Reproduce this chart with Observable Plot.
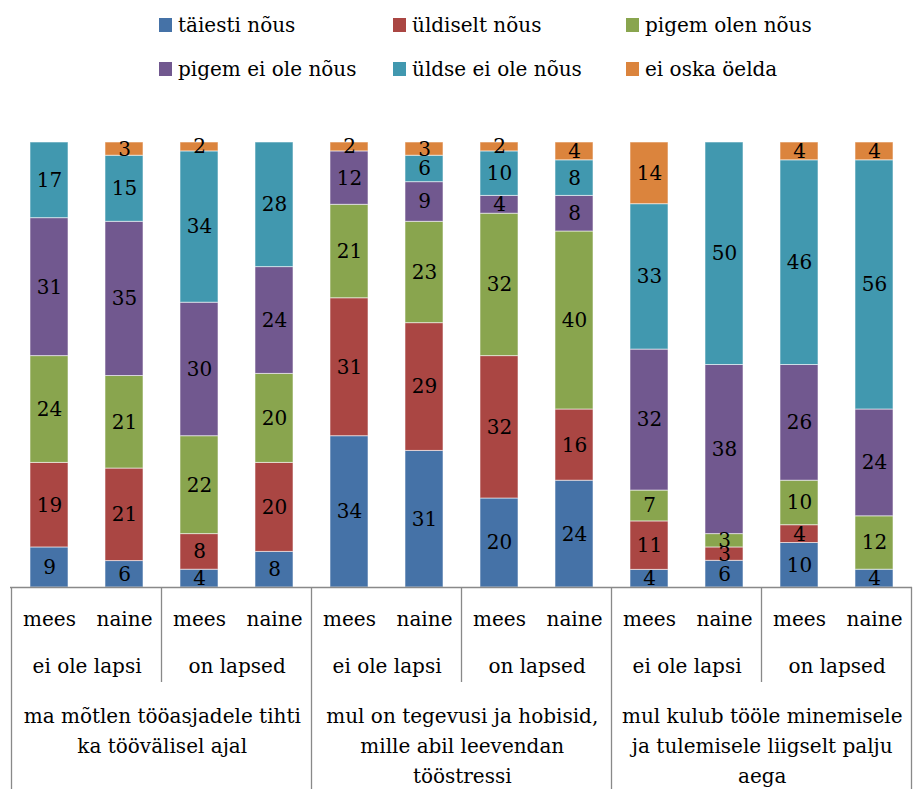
<!DOCTYPE html>
<html><head><meta charset="utf-8">
<script src="https://cdn.jsdelivr.net/npm/d3@7"></script>
<script src="https://cdn.jsdelivr.net/npm/@observablehq/plot@0.6"></script>
<style>
body{margin:0;background:#fff;font-family:"DejaVu Serif","Liberation Serif",serif;}
#legend{position:relative;height:100px;font-size:20px;color:#000;}
.item{position:absolute;display:flex;align-items:center;white-space:nowrap;height:30px;}
.sw{width:13px;height:14px;margin-right:6px;}
#chart svg{display:block;}
</style></head><body>
<div id="legend"></div><div id="chart"></div>
<script>
// Series (legend order, bottom to top in stack)
const seriesNames = ["täiesti nõus","üldiselt nõus","pigem olen nõus","pigem ei ole nõus","üldse ei ole nõus","ei oska öelda"];
const seriesColors = ["#4572A7","#AA4643","#89A54E","#71588F","#4198AF","#DB843D"];

// Categories (12 bars)
const sexLabels = ["mees","naine","mees","naine","mees","naine","mees","naine","mees","naine","mees","naine"];
const childLabels = ["ei ole lapsi","on lapsed","ei ole lapsi","on lapsed","ei ole lapsi","on lapsed"];
const statementLabels = [
  "ma mõtlen tööasjadele tihti\nka töövälisel ajal",
  "mul on tegevusi ja hobisid,\nmille abil leevendan\ntööstressi",
  "mul kulub tööle minemisele\nja tulemisele liigselt palju\naega"
];

// Values (%) per series, per bar
const taiestiNous   = [9, 6, 4, 8, 34, 31, 20, 24, 4, 6, 10, 4];
const uldiseltNous  = [19, 21, 8, 20, 31, 29, 32, 16, 11, 3, 4, 0];
const pigemOlenNous = [24, 21, 22, 20, 21, 23, 32, 40, 7, 3, 10, 12];
const pigemEiOle    = [31, 35, 30, 24, 12, 9, 4, 8, 32, 38, 26, 24];
const uldseEiOle    = [17, 15, 34, 28, 0, 6, 10, 8, 33, 50, 46, 56];
const eiOskaOelda   = [0, 3, 2, 0, 2, 3, 2, 4, 14, 0, 4, 4];

const seriesValues = [taiestiNous, uldiseltNous, pigemOlenNous, pigemEiOle, uldseEiOle, eiOskaOelda];
const barIds = sexLabels.map((_, i) => "b" + i);

const rows = [];
barIds.forEach((id, i) => {
  seriesNames.forEach((s, k) => {
    rows.push({id, series: s, value: seriesValues[k][i]});
  });
});

// Legend
const legendPos = [[159, 10], [393, 10], [626, 10], [159, 54], [393, 54], [626, 54]];
const leg = document.getElementById("legend");
seriesNames.forEach((s, k) => {
  const it = document.createElement("div");
  it.className = "item";
  it.style.left = legendPos[k][0] + "px";
  it.style.top = legendPos[k][1] + "px";
  it.innerHTML = `<span class="sw" style="background:${seriesColors[k]}"></span><span>${s}</span>`;
  leg.appendChild(it);
});

const W = 914, H = 689, mL = 10, mR = 2, mT = 42, mB = 202;
const step = (W - mL - mR) / barIds.length;

const pairData = childLabels.map((t, j) => ({id: barIds[2 * j], text: t}));
const groupData = statementLabels.map((t, j) => ({id: barIds[4 * j], text: t}));
const sexData = sexLabels.map((t, i) => ({id: barIds[i], text: t}));

const font = "'DejaVu Serif', 'Liberation Serif', serif";
const fs = 20;

const plot = Plot.plot({
  width: W, height: H,
  marginLeft: mL, marginRight: mR, marginTop: mT, marginBottom: mB,
  style: {fontFamily: font, fontSize: fs + "px", background: "#fff"},
  x: {domain: barIds, paddingInner: 0.5, paddingOuter: 0.25, axis: null},
  y: {domain: [0, 1], axis: null},
  color: {domain: seriesNames, range: seriesColors},
  marks: [
    Plot.barY(rows, Plot.stackY({x: "id", y: "value", fill: "series", order: seriesNames, offset: "normalize", stroke: "#fff", strokeOpacity: 0.55, strokeWidth: 1})),
    Plot.text(rows, Plot.stackY({x: "id", y: "value", z: "series", order: seriesNames, offset: "normalize", text: d => d.value > 0 ? String(d.value) : "", fill: "#000", fontSize: fs})),
    Plot.ruleY([0], {stroke: "#898989", strokeWidth: 1.3}),
    Plot.text(sexData, {x: "id", text: "text", frameAnchor: "bottom", dy: 38, fill: "#000", fontSize: fs}),
    Plot.text(pairData, {x: "id", text: "text", frameAnchor: "bottom", dx: step / 2, dy: 85, fill: "#000", fontSize: fs}),
    Plot.text(groupData, {x: "id", text: "text", frameAnchor: "bottom", dx: step * 1.5, dy: 114, lineAnchor: "top", lineHeight: 1.5, fill: "#000", fontSize: fs})
  ]
});

// Category table lines, positioned with the plot's x scale
const xs = plot.scale("x");
const svg = d3.select(plot);
const yAxis = H - mB;
const half = (xs.step - xs.bandwidth) / 2;
const lineG = svg.append("g").attr("stroke", "#898989").attr("stroke-width", 1.3);
barIds.forEach((id, i) => {
  if (i % 2 !== 0) return;
  const x0 = xs.apply(id) - half;
  const long = i % 4 === 0;
  lineG.append("line").attr("x1", x0).attr("x2", x0).attr("y1", yAxis).attr("y2", long ? H : yAxis + 95);
});
const last = barIds[barIds.length - 1];
const xr = xs.apply(last) + xs.bandwidth + half;
lineG.append("line").attr("x1", xr).attr("x2", xr).attr("y1", yAxis).attr("y2", H);

document.getElementById("chart").appendChild(plot);
</script>
</body></html>
